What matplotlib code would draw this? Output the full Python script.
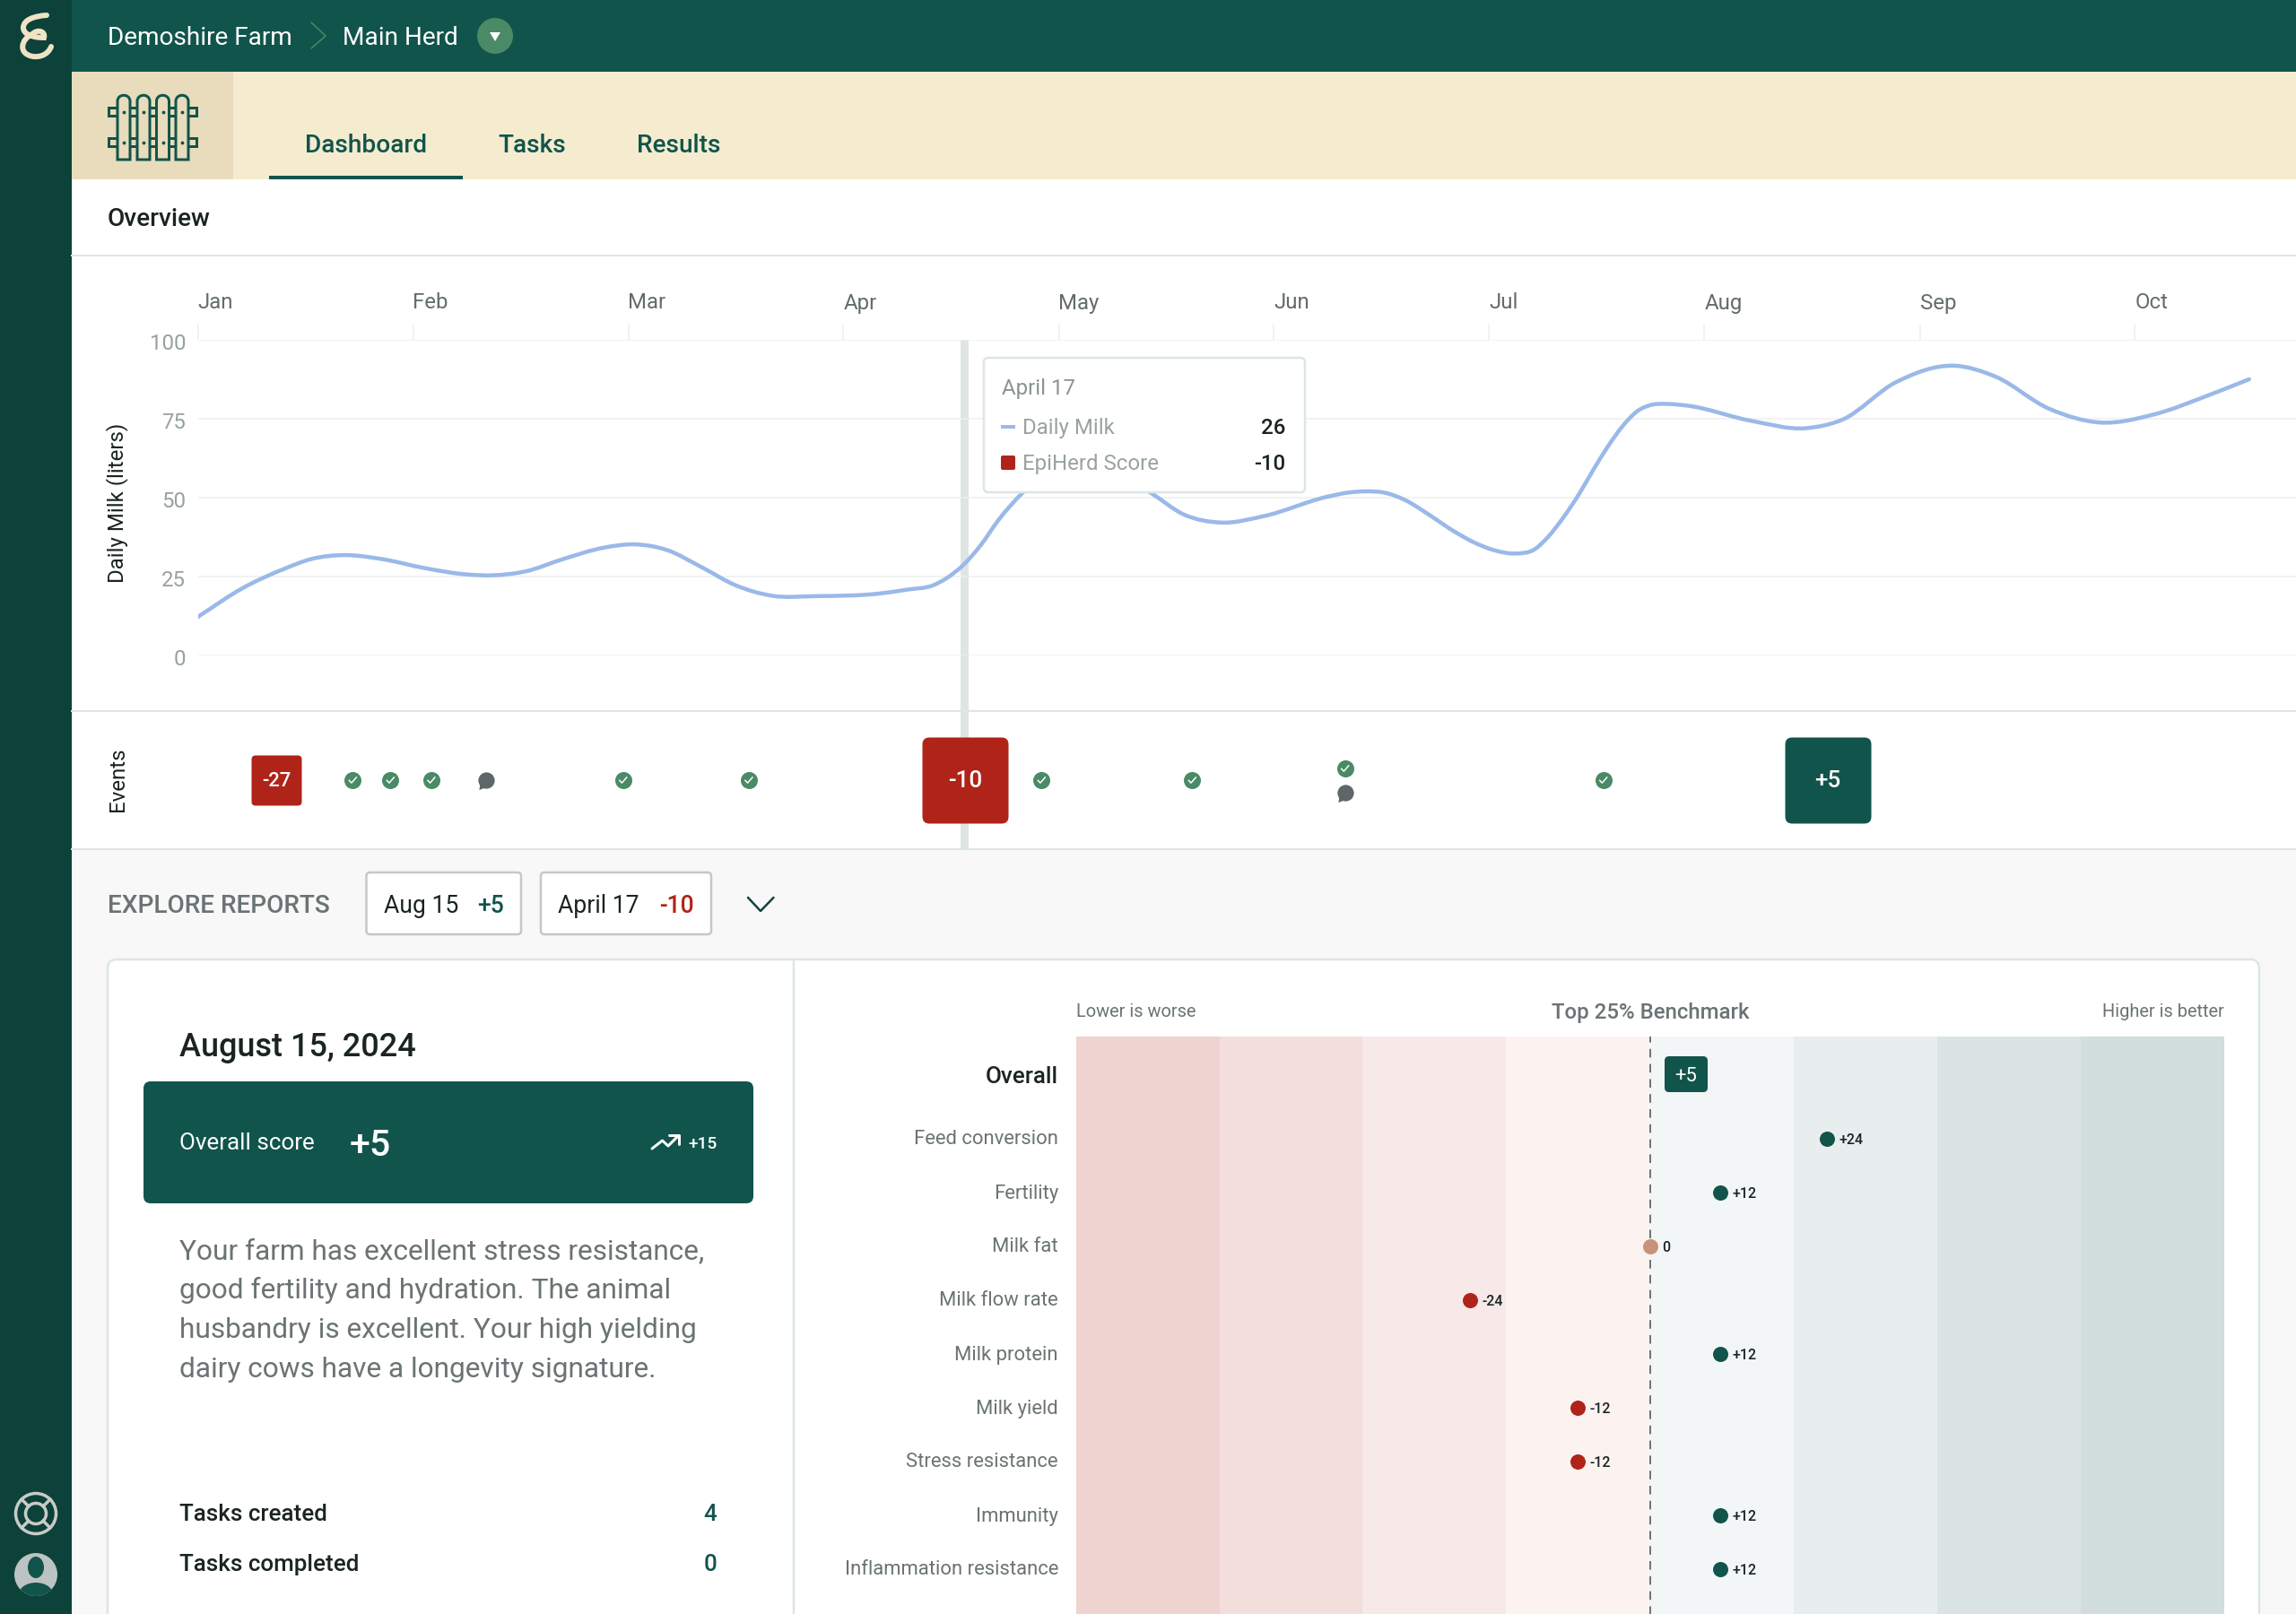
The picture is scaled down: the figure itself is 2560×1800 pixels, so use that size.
import numpy as np
import matplotlib
matplotlib.use("Agg")
import matplotlib.pyplot as plt
from matplotlib.patches import BoxStyle, Circle, Ellipse, FancyBboxPatch, PathPatch, Polygon, Rectangle
from matplotlib.path import Path
from matplotlib.transforms import ScaledTranslation

plt.rcParams['font.family'] = ['Roboto', 'DejaVu Sans']

# ---- data ----
months = ['Jan', 'Feb', 'Mar', 'Apr', 'May', 'Jun', 'Jul', 'Aug', 'Sep', 'Oct']
milk_ticks = [0, 25, 50, 75, 100]

# position on the time axis (1.0 = one month) and liters
milk_time = [0.0, 0.21, 0.40, 0.53, 0.68, 0.85, 1.06, 1.23, 1.37, 1.52, 1.70, 1.89, 2.03, 2.18,
             2.34, 2.50, 2.67, 2.87, 3.164, 3.30, 3.415, 3.477, 3.56, 3.637, 3.72, 3.83, 4.12, 4.43,
             4.58, 4.76, 4.95, 5.248, 5.345, 5.428, 5.512, 5.61, 5.72, 5.83, 5.93, 6.025, 6.12, 6.21,
             6.275, 6.345, 6.415, 6.485, 6.55, 6.62, 6.69, 6.76, 6.82, 6.915, 7.22,
             7.47, 7.64, 7.89, 8.16, 8.35, 8.60, 8.84, 9.09, 9.34, 9.53]
milk_liters = [12.2, 21.4, 27.4, 30.6, 31.8, 30.6, 27.6, 25.8, 25.4, 26.6, 30.6, 34.2, 35.2, 33.4,
               28.0, 22.2, 18.9, 18.8, 19.6, 20.9, 22.2, 24.4, 28.9, 34.9, 42.9, 51.4, 62.8, 51.4,
               44.7, 42.1, 44.1, 50.3, 51.6, 52.0, 51.6, 49.2, 44.6, 39.6, 35.8, 33.3, 32.3, 33.6,
               37.7, 43.8, 50.9, 59.0, 66.1, 72.7, 77.5, 79.5, 79.7, 79.2, 74.3,
               72.0, 74.7, 86.6, 91.8, 88.4, 78.2, 73.8, 76.4, 82.4, 87.5]

score_time = [0.365, 3.565, 7.573]
score_values = [-27, -10, 5]
task_time = [0.72, 0.895, 1.085, 1.976, 2.56, 3.92, 4.62, 5.33, 6.53]
task_lane = [0, 0, 0, 0, 0, 0, 0, -13, 0]
note_time = [1.34, 5.33]
note_lane = [0, 14]

traits = ['Feed conversion', 'Fertility', 'Milk fat', 'Milk flow rate', 'Milk protein',
          'Milk yield', 'Stress resistance', 'Immunity', 'Inflammation resistance']
trait_scores = [24, 12, 0, -24, 12, -12, -12, 12, 12]
band_edges = [-68, -52, -36, -20, 0, 20, 36, 52, 68]
band_colors = ['#eed3d0', '#f3dedc', '#f6e9e8', '#fcf3f1', '#f2f6f6', '#e8eeed', '#dae4e3', '#d1dedb']
# the benchmark axis is not linear: score -> distance from the benchmark line
scale_scores = [-68, -24, -12, 0, 12, 20, 24, 36, 68]
scale_pixels = [-640, -201, -81, 0, 78, 160, 197, 320, 640]

summary_lines = ['Your farm has excellent stress resistance,',
                 'good fertility and hydration. The animal',
                 'husbandry is excellent. Your high yielding',
                 'dairy cows have a longevity signature.']

W, H = 2560, 1800
DARK = '#0c4239'
GREEN = '#11544b'
RED = '#b02318'
MID_GREEN = '#4a8a66'
LINE = '#dde6e6'
INK = '#1a2422'
GREY = '#6b7374'
PT = 0.72  # one pixel in points at dpi 100


def px_axes(x0, y0, x1, y1, zorder):
    ax = fig.add_axes([x0 / W, 1 - y1 / H, (x1 - x0) / W, (y1 - y0) / H], zorder=zorder)
    ax.patch.set_alpha(0)
    return ax


def label(ax, x, y, s, size, color=INK, weight='normal', ha='left', rotation=0):
    # y is the middle of the capitals, size is the font size in pixels
    if rotation:
        return ax.text(x, y, s, fontsize=size * PT, color=color, weight=weight, ha='center',
                       va='center', rotation=rotation)
    return ax.text(x, y + 0.36 * size, s, fontsize=size * PT, color=color, weight=weight,
                   ha=ha, va='baseline')


def box(ax, x0, y0, x1, y1, face, edge='none', lw=0, r=8, zorder=1):
    ax.add_patch(FancyBboxPatch((x0 + r, y0 + r), x1 - x0 - 2 * r, y1 - y0 - 2 * r,
                                boxstyle=f'round,pad={r},rounding_size={r}', fc=face, ec=edge,
                                lw=lw * PT, zorder=zorder))


def stroke(ax, xs, ys, color, width, zorder=3):
    ax.plot(xs, ys, color=color, lw=width * PT, solid_capstyle='round', solid_joinstyle='round',
            zorder=zorder)


def spline_path(xs, ys):
    # bezier path through the points, the way the original chart draws its line
    xs, ys = np.asarray(xs), np.asarray(ys)
    slopes = np.gradient(ys, xs)
    verts = [(xs[0], ys[0])]
    for i in range(len(xs) - 1):
        dx = (xs[i + 1] - xs[i]) / 3
        verts.append((xs[i] + dx, ys[i] + slopes[i] * dx))
        verts.append((xs[i + 1] - dx, ys[i + 1] - slopes[i + 1] * dx))
        verts.append((xs[i + 1], ys[i + 1]))
    return Path(verts, [Path.MOVETO] + [Path.CURVE4] * (len(verts) - 1))


def nudge_ticks(labels, down_px):
    # move tick labels up or down a little, tick_params has no option for it
    offset = ScaledTranslation(0, -down_px / 100, fig.dpi_scale_trans)
    for tick_text in labels:
        tick_text.set_transform(tick_text.get_transform() + offset)


fig = plt.figure(figsize=(W / 100, H / 100), dpi=100, facecolor='white')

# ---- page background, header and navigation ----
ui = px_axes(0, 0, W, H, 0)
ui.set_xlim(0, W)
ui.set_ylim(H, 0)
ui.axis('off')

ui.add_patch(Rectangle((80, 948), W, H, fc='#f7f8f7', ec='none'))
ui.add_patch(Rectangle((80, 0), W, 80, fc=GREEN, ec='none'))
ui.add_patch(Rectangle((80, 80), W, 120, fc='#f5ecd0', ec='none'))
ui.add_patch(Rectangle((80, 80), 180, 120, fc='#e8dcbc', ec='none'))
ui.add_patch(Rectangle((0, 0), 80, H, fc=DARK, ec='none', zorder=2))
ui.add_patch(Rectangle((300, 196), 216, 4, fc=GREEN, ec='none'))
for y in (285, 793, 947):
    ui.plot([80, W], [y, y], color=LINE, lw=2 * PT)
ui.add_patch(Rectangle((1070.5, 379), 9.5, 568, fc='#dfe5e4', ec='none'))

# logo
logo = Path([(52, 17), (38, 18), (26, 22), (26, 31), (26, 38), (36, 42), (49, 42),
             (51, 35), (42, 32), (36, 38), (24, 43), (19, 60), (37, 63), (46, 64), (54, 60), (57, 52)],
            [Path.MOVETO] + [Path.CURVE4] * 15)
ui.add_patch(PathPatch(logo, fc='none', ec='#efe3c4', lw=6 * PT, capstyle='round', zorder=3))

label(ui, 120, 40, 'Demoshire Farm', 28, 'white')
stroke(ui, [347, 363, 347], [25, 40, 54], MID_GREEN, 1.5)
label(ui, 382, 40, 'Main Herd', 28, 'white')
ui.add_patch(Ellipse((552, 40), 40, 40, fc=MID_GREEN, ec='none'))
ui.add_patch(Polygon([(546, 36), (558, 36), (552, 46)], fc='white', ec='none'))

# fence icon
for y0, y1 in ((120, 129), (154, 163)):
    ui.add_patch(Rectangle((121, y0), 98, y1 - y0, fc='none', ec=GREEN, lw=3 * PT))
for x0 in (131, 153, 174.5, 196):
    picket = Path([(x0, 178), (x0, 113), (x0, 104), (x0 + 14, 104), (x0 + 14, 113), (x0 + 14, 178), (x0, 178)],
                  [Path.MOVETO, Path.LINETO, Path.CURVE4, Path.CURVE4, Path.CURVE4, Path.LINETO, Path.CLOSEPOLY])
    ui.add_patch(PathPatch(picket, fc='#e8dcbc', ec=GREEN, lw=3 * PT, zorder=3))
    ui.scatter([x0 + 7, x0 + 7], [124.5, 158.5], s=3, color=GREEN, zorder=4)

label(ui, 340, 160, 'Dashboard', 28, GREEN, 'medium')
label(ui, 555.5, 160, 'Tasks', 28, GREEN, 'medium')
label(ui, 710, 160, 'Results', 28, GREEN, 'medium')
label(ui, 120, 242, 'Overview', 28, INK, 'medium')

# sidebar icons
ring = '#c9cbc8'
ui.add_patch(Circle((40, 1688), 22.5, fc='none', ec=ring, lw=3.5 * PT, zorder=3))
ui.add_patch(Circle((40, 1688), 11.5, fc='none', ec=ring, lw=3.5 * PT, zorder=3))
for sx, sy in ((-1, -1), (1, -1), (-1, 1), (1, 1)):
    stroke(ui, [40 + sx * 8, 40 + sx * 16], [1688 + sy * 8, 1688 + sy * 16], ring, 3.5)
avatar_edge = Circle((40, 1756), 24, fc='#bcc3c3', ec='none', zorder=3)
ui.add_patch(avatar_edge)
head = ui.add_patch(Ellipse((40, 1748), 18, 24, fc=GREEN, ec='none', zorder=4))
body = ui.add_patch(Ellipse((40, 1778), 38, 26, fc=GREEN, ec='none', zorder=4))
body.set_clip_path(avatar_edge)

label(ui, 131, 561, 'Daily Milk (liters)', 24, INK, rotation=90)
label(ui, 131, 869, 'Events', 24, INK, rotation=90)

# ---- milk chart ----
ax = px_axes(220.5, 379, W, 731, 1)
ax.set_xlim(0, (W - 220.5) / 240)
ax.set_ylim(0, 100)
ax.add_patch(PathPatch(spline_path(milk_time, milk_liters), fc='none', ec='#9ab9e9', lw=4.5 * PT,
                       capstyle='round', zorder=3))
ax.set_yticks(milk_ticks)
ax.set_xticks(range(len(months)))
ax.set_xticklabels(months, ha='left', fontsize=24 * PT, color='#646c6d')
ax.xaxis.tick_top()
ax.tick_params(axis='x', length=17 * PT, width=1.5 * PT, color='#eceff0', pad=9)
ax.tick_params(axis='y', length=0, pad=9.5, labelsize=24 * PT, labelcolor='#98a1a1')
nudge_ticks(ax.get_yticklabels(), 2)
ax.grid(axis='y', color='#edf0f0', lw=1.5 * PT)
ax.set_axisbelow(True)
for side in ax.spines.values():
    side.set_visible(False)

# ---- events strip, same time scale as the chart ----
ev = px_axes(220.5, 793, W, 947, 2)
ev.set_xlim(0, (W - 220.5) / 240)
ev.set_ylim(77, -77)
ev.axis('off')

rounded = BoxStyle('Round', pad=0, rounding_size=0.16)(-1, -1, 2, 2, 1)
for t, v in zip(score_time, score_values):
    size = 56 if t < 1 else 96
    ev.scatter([t], [0], s=(size * PT) ** 2, marker=rounded, color=RED if v < 0 else GREEN, lw=0, zorder=3)
    ev.text(t, 1.5, f'{v:+d}', color='white', ha='center', va='center', weight='medium',
            fontsize=(22 if t < 1 else 26) * PT, zorder=4)

check = Path([(-1, 0.05), (-0.3, -0.7), (1, 0.8)], [Path.MOVETO, Path.LINETO, Path.LINETO])
ev.scatter(task_time, task_lane, s=(19 * PT) ** 2, color=MID_GREEN, lw=0, zorder=3)
ev.scatter(task_time, task_lane, s=(9 * PT) ** 2, marker=check, facecolors='none', edgecolors='white',
           lw=1.5 * PT, zorder=4)
bubble = Path.make_compound_path(Path.unit_circle(),
                                 Path([(-0.9, -1.15), (0.1, -0.8), (-0.7, -0.2), (-0.9, -1.15)], closed=True))
ev.scatter(note_time, note_lane, s=(21 * PT) ** 2, marker=bubble, color='#5f6668', lw=0, zorder=3)

# ---- lower section: reports ----
label(ui, 120, 1008, 'EXPLORE REPORTS', 28, GREY, 'medium')
box(ui, 408.5, 973, 581, 1042, 'white', '#c2c9c8', 2.5, r=4)
box(ui, 603, 973, 793, 1042, 'white', '#c2c9c8', 2.5, r=4)
label(ui, 428, 1008, 'Aug 15', 26.5, INK)
label(ui, 532, 1008, '+5', 26.5, GREEN, 'medium')
label(ui, 622, 1008, 'April 17', 26.5, INK)
label(ui, 735, 1008, '-10', 26.5, RED, 'medium')
stroke(ui, [834, 848, 862.5], [1001, 1016, 1001], '#11443c', 2.5)

box(ui, 120, 1070, 2519, 1900, 'white', LINE, 2.5, r=10)
ui.plot([885, 885], [1070, H], color=LINE, lw=2.5 * PT, zorder=2)

label(ui, 200, 1165, 'August 15, 2024', 36, INK, 'medium')
box(ui, 160, 1206, 840, 1342, GREEN, r=8, zorder=2)
label(ui, 200, 1273, 'Overall score', 26, 'white').set_zorder(3)
label(ui, 390, 1274, '+5', 41, 'white', 'medium').set_zorder(3)
stroke(ui, [727, 738.5, 745, 756], [1281, 1272, 1278, 1267], 'white', 3)
stroke(ui, [746, 757, 757], [1266, 1266, 1276], 'white', 3)
label(ui, 767, 1274, '+15', 19, 'white', 'medium').set_zorder(3)

for i, line in enumerate(summary_lines):
    label(ui, 200, 1392.5 + i * 44, line, 31.7, GREY)

label(ui, 200, 1687, 'Tasks created', 26, INK, 'medium')
label(ui, 200, 1743, 'Tasks completed', 26, INK, 'medium')
label(ui, 799, 1687, '4', 26, GREEN, 'medium', ha='right')
label(ui, 799, 1743, '0', 26, GREEN, 'medium', ha='right')

label(ui, 1200, 1127, 'Lower is worse', 20, GREY)
label(ui, 1840, 1127, 'Top 25% Benchmark', 24, GREY, 'medium', ha='center')
label(ui, 2480, 1127, 'Higher is better', 20, GREY, ha='right')
label(ui, 1180, 1199, 'Overall', 26, INK, 'medium', ha='right')

# ---- benchmark chart ----
bench = px_axes(1200, 1156, 2480, 1840, 3)
bench.set_xscale('function', functions=(lambda v: np.interp(v, scale_scores, scale_pixels),
                                        lambda p: np.interp(p, scale_pixels, scale_scores)))
bench.set_xlim(band_edges[0], band_edges[-1])
rows = np.arange(len(traits))
bench.set_ylim(9.5, -1.9)
for left, right, color in zip(band_edges[:-1], band_edges[1:], band_colors):
    bench.axvspan(left, right, color=color, lw=0, zorder=0)
bench.axvline(0, color='#4f5758', lw=1.6 * PT, dashes=(6, 4.5), zorder=1)
bench.set_xticks([])
bench.minorticks_off()
bench.set_yticks(rows)
bench.set_yticklabels(traits, fontsize=22 * PT, color=GREY)
bench.tick_params(axis='y', length=0, pad=14.4)
nudge_ticks(bench.get_yticklabels(), -1.5)
for side in bench.spines.values():
    side.set_visible(False)

for row, score in zip(rows, trait_scores):
    color = GREEN if score > 0 else RED if score < 0 else '#c89478'
    bench.scatter([score], [row], s=(17 * PT) ** 2, color=color, lw=0, zorder=3)
    text = f'{score:+d}' if score else '0'
    bench.annotate(text, (score, row), xytext=(13.5 * PT, -1 * PT), textcoords='offset points',
                   fontsize=16 * PT, weight='medium', color=INK, va='center', zorder=4)

# overall badge, tooltip sit on top of everything
top = px_axes(0, 0, W, H, 4)
top.set_xlim(0, W)
top.set_ylim(H, 0)
top.axis('off')

box(top, 1856, 1178, 1904, 1218, GREEN, r=5)
label(top, 1880, 1198, '+5', 22, 'white', ha='center')

box(top, 1097, 399, 1455, 549, 'white', LINE, 2.5, r=5)
label(top, 1117, 431, 'April 17', 24, '#8b9393')
top.add_patch(Rectangle((1116, 474), 16, 4, fc='#9ab9e9', ec='none'))
label(top, 1140, 475, 'Daily Milk', 24, '#9aa2a2')
label(top, 1433, 475, '26', 24, INK, 'medium', ha='right')
box(top, 1116, 508, 1132, 524, RED, r=2)
label(top, 1140, 515.5, 'EpiHerd Score', 24, '#9aa2a2')
label(top, 1433, 515.5, '-10', 24, INK, 'medium', ha='right')

fig.savefig('out.png', dpi=100)
